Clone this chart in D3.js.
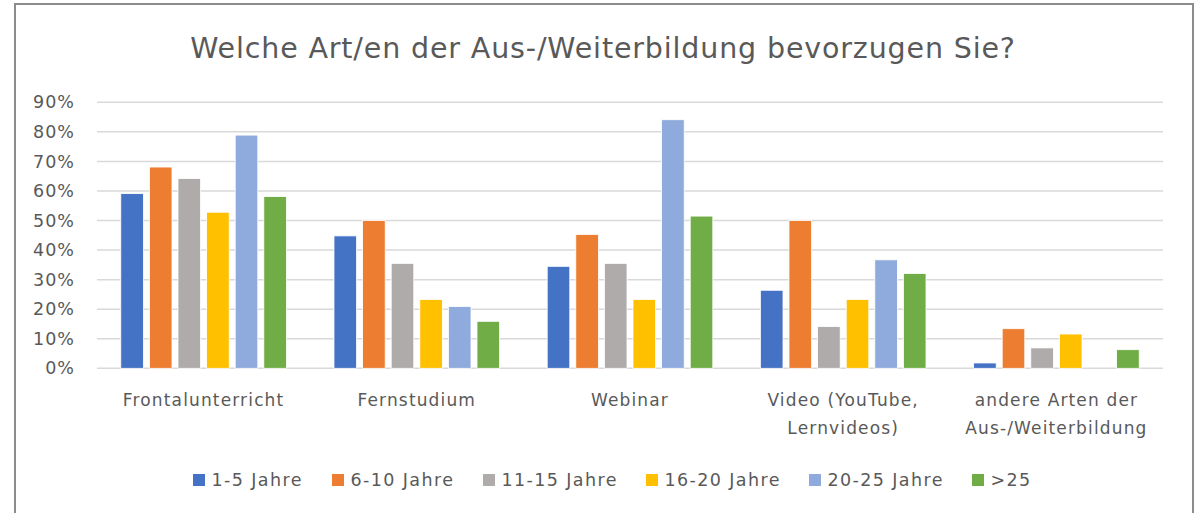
<!DOCTYPE html>
<html><head><meta charset="utf-8">
<script src="https://cdn.jsdelivr.net/npm/d3@7"></script>
<style>body{margin:0;background:#fff}svg{display:block}</style>
</head><body>
<svg id="c" width="1202" height="513"></svg>
<script>
const title = "Welche Art/en der Aus-/Weiterbildung bevorzugen Sie?";
const categories = ["Frontalunterricht", "Fernstudium", "Webinar", "Video (YouTube,|Lernvideos)", "andere Arten der|Aus-/Weiterbildung"];
const seriesNames = ["1-5 Jahre", "6-10 Jahre", "11-15 Jahre", "16-20 Jahre", "20-25 Jahre", ">25"];
const seriesColors = ["#4472C4", "#ED7D31", "#AFABAB", "#FFC000", "#8FAADC", "#70AD47"];
const s1 = [59.1, 44.8, 34.5, 26.4, 1.8];
const s2 = [68.1, 50.0, 45.3, 50.0, 13.4];
const s3 = [64.2, 35.5, 35.5, 14.1, 6.9];
const s4 = [52.8, 23.3, 23.3, 23.3, 11.6];
const s5 = [78.9, 20.9, 84.1, 36.7, 0];
const s6 = [58.1, 15.9, 51.5, 32.1, 6.3];
const yTicks = [0, 10, 20, 30, 40, 50, 60, 70, 80, 90];

const series = [s1, s2, s3, s4, s5, s6];
const svg = d3.select("#c");
const font = "'DejaVu Sans', sans-serif";
const txt = "#595959";

// frame
svg.append("rect").attr("x", 15).attr("y", 4).attr("width", 1178).attr("height", 540)
  .attr("fill", "none").attr("stroke", "#8c8c8c").attr("stroke-width", 2);

svg.append("text").attr("x", 603).attr("y", 57.5).attr("text-anchor", "middle")
  .attr("font-family", font).attr("font-size", 28.5).attr("letter-spacing", 0.85)
  .attr("fill", txt).text(title);

const y = d3.scaleLinear().domain([0, 90]).range([368.3, 102.3]);
const x0 = d3.scaleBand().domain(categories).range([97, 1163]).paddingInner(0.195).paddingOuter(0.0975);
const x1 = d3.scaleBand().domain(d3.range(6)).range([0, x0.bandwidth()]).paddingInner(0.21).paddingOuter(0.105);

// grid
const grid = svg.append("g");
grid.selectAll("line").data(yTicks).join("line")
  .attr("x1", 97).attr("x2", 1163).attr("y1", d => y(d)).attr("y2", d => y(d))
  .attr("stroke", "#D9D9D9").attr("stroke-width", 1.5);

// y axis labels
const yAxis = d3.axisLeft(y).tickValues(yTicks).tickFormat(d => d + "%").tickSize(0).tickPadding(0);
const ya = svg.append("g").attr("transform", "translate(75,0)").call(yAxis);
ya.select(".domain").remove();
ya.selectAll("text").attr("font-family", font).attr("font-size", 17.5).attr("letter-spacing", 1)
  .attr("fill", txt);

// bars
const g = svg.append("g");
categories.forEach((c, ci) => {
  series.forEach((s, si) => {
    g.append("rect")
      .attr("x", x0(c) + x1(si))
      .attr("y", y(s[ci]))
      .attr("width", x1.bandwidth())
      .attr("height", y(0) - y(s[ci]))
      .attr("fill", seriesColors[si])
      .attr("stroke", "#fff").attr("stroke-width", 0.8);
  });
});

// category labels
const xa = svg.append("g");
categories.forEach(c => {
  const lines = c.split("|");
  const t = xa.append("text").attr("text-anchor", "middle")
    .attr("font-family", font).attr("font-size", 17).attr("letter-spacing", 1.15).attr("fill", txt);
  lines.forEach((l, i) => {
    t.append("tspan").attr("x", x0(c) + x0.bandwidth() / 2).attr("y", 406 + i * 28).text(l);
  });
});

// legend
const legX = [193, 332, 483, 646, 809, 972];
const lg = svg.append("g");
seriesNames.forEach((n, i) => {
  lg.append("rect").attr("x", legX[i]).attr("y", 474).attr("width", 12).attr("height", 12).attr("fill", seriesColors[i]);
  lg.append("text").attr("x", legX[i] + 18.5).attr("y", 486).attr("font-family", font).attr("font-size", 17.5)
    .attr("letter-spacing", 1.4).attr("fill", txt).text(n);
});
</script>
</body></html>
